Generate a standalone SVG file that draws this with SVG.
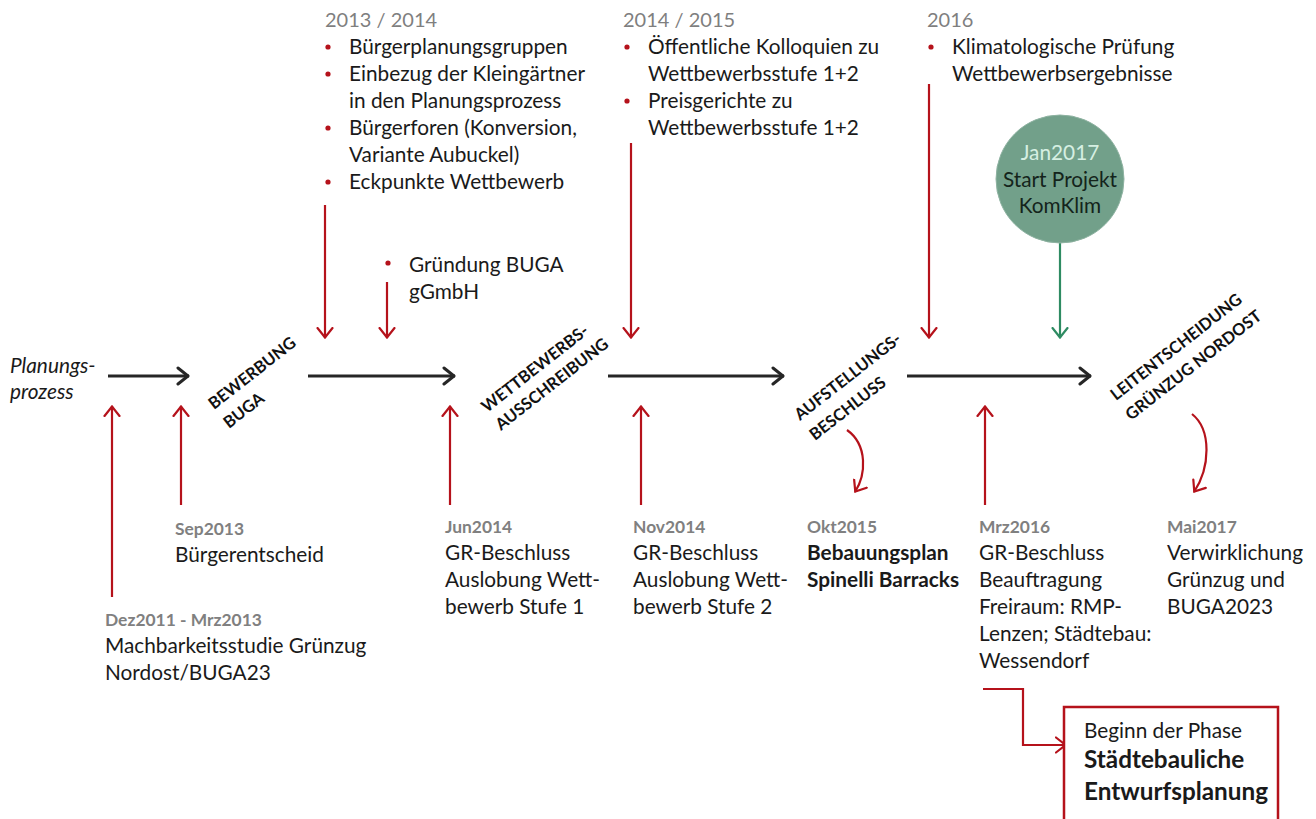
<svg xmlns="http://www.w3.org/2000/svg" width="1316" height="819" viewBox="0 0 1316 819">
<defs>
<style>
text{font-family:Lato,"Open Sans","Liberation Sans",sans-serif;fill:#1a1a1a}
.t{font-size:20.8px}
.hd{font-size:20px;fill:#7f7f7f}
.dt{font-size:17.4px;font-weight:bold;fill:#808080}
.b{font-weight:bold}
.rot{font-size:16.5px;font-weight:bold;fill:#111}
.bul{fill:#b5121b}
.main{stroke:#262626;stroke-width:3;fill:none}
.red{stroke:#b5121b;stroke-width:2.2;fill:none}
.grn{stroke:#2e8b62;stroke-width:2.2;fill:none}
</style>
<marker id="mk" viewBox="0 0 14 20" refX="13" refY="10" markerWidth="14" markerHeight="20" markerUnits="userSpaceOnUse" orient="auto">
<path d="M2,2 L12,10 L2,18" fill="none" stroke="#262626" stroke-width="3" stroke-linecap="round" stroke-linejoin="round"/>
</marker>
<marker id="mr" viewBox="0 0 12 18" refX="11" refY="9" markerWidth="12" markerHeight="18" markerUnits="userSpaceOnUse" orient="auto">
<path d="M1,1.5 L10.5,9 L1,16.5" fill="none" stroke="#b5121b" stroke-width="2.2" stroke-linecap="round"/>
</marker>
<marker id="mg" viewBox="0 0 12 18" refX="11" refY="9" markerWidth="12" markerHeight="18" markerUnits="userSpaceOnUse" orient="auto">
<path d="M1,1.5 L10.5,9 L1,16.5" fill="none" stroke="#2e8b62" stroke-width="2.2" stroke-linecap="round"/>
</marker>
</defs>
<rect width="1316" height="819" fill="#ffffff"/>

<g id="connectors">
<line class="main" x1="108" y1="376" x2="189" y2="376" marker-end="url(#mk)"/>
<line class="main" x1="308" y1="376" x2="455" y2="376" marker-end="url(#mk)"/>
<line class="main" x1="608" y1="376" x2="784" y2="376" marker-end="url(#mk)"/>
<line class="main" x1="907" y1="376" x2="1091" y2="376" marker-end="url(#mk)"/>
<line class="red" x1="112" y1="597" x2="112" y2="406" marker-end="url(#mr)"/>
<line class="red" x1="181" y1="505" x2="181" y2="406" marker-end="url(#mr)"/>
<line class="red" x1="450" y1="505" x2="450" y2="406" marker-end="url(#mr)"/>
<line class="red" x1="641" y1="505" x2="641" y2="406" marker-end="url(#mr)"/>
<line class="red" x1="985" y1="505" x2="985" y2="406" marker-end="url(#mr)"/>
<line class="red" x1="325" y1="205" x2="325" y2="338" marker-end="url(#mr)"/>
<line class="red" x1="387" y1="282" x2="387" y2="338" marker-end="url(#mr)"/>
<line class="red" x1="631" y1="143" x2="631" y2="338" marker-end="url(#mr)"/>
<line class="red" x1="929" y1="84" x2="929" y2="338" marker-end="url(#mr)"/>
<line class="grn" x1="1060" y1="243" x2="1060" y2="338" marker-end="url(#mg)"/>
<path class="red" d="M847,430 C868,445 866,475 855,492" marker-end="url(#mr)"/>
<path class="red" d="M1192,414 C1212,430 1210,468 1194,492" marker-end="url(#mr)"/>
<path class="red" d="M983,689 L1023,689 L1023,745 L1066,745" marker-end="url(#mr)"/>
</g>

<g id="start">
<text class="t" x="10" y="373" font-style="italic">Planungs-</text>
<text class="t" x="10" y="399" font-style="italic">prozess</text>
</g>

<g id="bewerbung">
<text class="rot" transform="translate(214,410) rotate(-38)">BEWERBUNG</text>
<text class="rot" transform="translate(229,429) rotate(-38)">BUGA</text>
</g>
<g id="wettbewerb">
<text class="rot" transform="translate(487,413) rotate(-38)">WETTBEWERBS-</text>
<text class="rot" transform="translate(501,431) rotate(-38)">AUSSCHREIBUNG</text>
</g>
<g id="aufstellung">
<text class="rot" transform="translate(800,421) rotate(-38)">AUFSTELLUNGS-</text>
<text class="rot" transform="translate(815,441) rotate(-38)">BESCHLUSS</text>
</g>
<g id="leitentscheidung">
<text class="rot" transform="translate(1116,401) rotate(-38)">LEITENTSCHEIDUNG</text>
<text class="rot" transform="translate(1131,421) rotate(-38)">GRÜNZUG NORDOST</text>
</g>

<g id="top2013">
<text class="hd" x="325" y="27">2013 / 2014</text>
<circle class="bul" cx="328" cy="47" r="2.6"/>
<text class="t" x="349" y="54">Bürgerplanungsgruppen</text>
<circle class="bul" cx="328" cy="74" r="2.6"/>
<text class="t" x="349" y="81">Einbezug der Kleingärtner</text>
<text class="t" x="349" y="108">in den Planungsprozess</text>
<circle class="bul" cx="328" cy="128" r="2.6"/>
<text class="t" x="349" y="135">Bürgerforen (Konversion,</text>
<text class="t" x="349" y="162">Variante Aubuckel)</text>
<circle class="bul" cx="328" cy="182" r="2.6"/>
<text class="t" x="349" y="189">Eckpunkte Wettbewerb</text>
</g>

<g id="gruendung">
<circle class="bul" cx="388" cy="263" r="2.6"/>
<text class="t" x="409" y="272">Gründung BUGA</text>
<text class="t" x="409" y="299">gGmbH</text>
</g>

<g id="top2014">
<text class="hd" x="623" y="27">2014 / 2015</text>
<circle class="bul" cx="627" cy="47" r="2.6"/>
<text class="t" x="648" y="54">Öffentliche Kolloquien zu</text>
<text class="t" x="648" y="81">Wettbewerbsstufe 1+2</text>
<circle class="bul" cx="627" cy="101" r="2.6"/>
<text class="t" x="648" y="108">Preisgerichte zu</text>
<text class="t" x="648" y="135">Wettbewerbsstufe 1+2</text>
</g>

<g id="top2016">
<text class="hd" x="927" y="27">2016</text>
<circle class="bul" cx="931" cy="47" r="2.6"/>
<text class="t" x="952" y="54">Klimatologische Prüfung</text>
<text class="t" x="952" y="81">Wettbewerbsergebnisse</text>
</g>

<g id="komklim">
<circle cx="1060" cy="179" r="64" fill="#72a08a" stroke="#8fb3a2" stroke-width="1"/>
<text class="t" x="1060" y="160" text-anchor="middle" style="fill:#d6efe2">Jan2017</text>
<text class="t" x="1060" y="187" text-anchor="middle" style="fill:#14241b">Start Projekt</text>
<text class="t" x="1060" y="213" text-anchor="middle" style="fill:#14241b">KomKlim</text>
</g>

<g id="sep2013">
<text class="dt" x="175" y="535">Sep2013</text>
<text class="t" x="175" y="562">Bürgerentscheid</text>
</g>
<g id="dez2011">
<text class="dt" x="105" y="626">Dez2011 - Mrz2013</text>
<text class="t" x="105" y="653">Machbarkeitsstudie Grünzug</text>
<text class="t" x="105" y="680">Nordost/BUGA23</text>
</g>
<g id="jun2014">
<text class="dt" x="445" y="533">Jun2014</text>
<text class="t" x="445" y="560">GR-Beschluss</text>
<text class="t" x="445" y="587">Auslobung Wett-</text>
<text class="t" x="445" y="614">bewerb Stufe 1</text>
</g>
<g id="nov2014">
<text class="dt" x="633" y="533">Nov2014</text>
<text class="t" x="633" y="560">GR-Beschluss</text>
<text class="t" x="633" y="587">Auslobung Wett-</text>
<text class="t" x="633" y="614">bewerb Stufe 2</text>
</g>
<g id="okt2015">
<text class="dt" x="807" y="533">Okt2015</text>
<text class="t b" x="807" y="560">Bebauungsplan</text>
<text class="t b" x="807" y="587">Spinelli Barracks</text>
</g>
<g id="mrz2016">
<text class="dt" x="979" y="533">Mrz2016</text>
<text class="t" x="979" y="560">GR-Beschluss</text>
<text class="t" x="979" y="587">Beauftragung</text>
<text class="t" x="979" y="614">Freiraum: RMP-</text>
<text class="t" x="979" y="641">Lenzen; Städtebau:</text>
<text class="t" x="979" y="668">Wessendorf</text>
</g>
<g id="mai2017">
<text class="dt" x="1167" y="533">Mai2017</text>
<text class="t" x="1167" y="560">Verwirklichung</text>
<text class="t" x="1167" y="587">Grünzug und</text>
<text class="t" x="1167" y="614">BUGA2023</text>
</g>

<g id="phase">
<rect x="1064" y="707" width="214" height="130" fill="#ffffff" stroke="#b5121b" stroke-width="2.5"/>
<text class="t" x="1084" y="738">Beginn der Phase</text>
<text class="b" x="1084" y="768" style="font-size:24.3px">Städtebauliche</text>
<text class="b" x="1084" y="800" style="font-size:24.3px">Entwurfsplanung</text>
</g>
</svg>
